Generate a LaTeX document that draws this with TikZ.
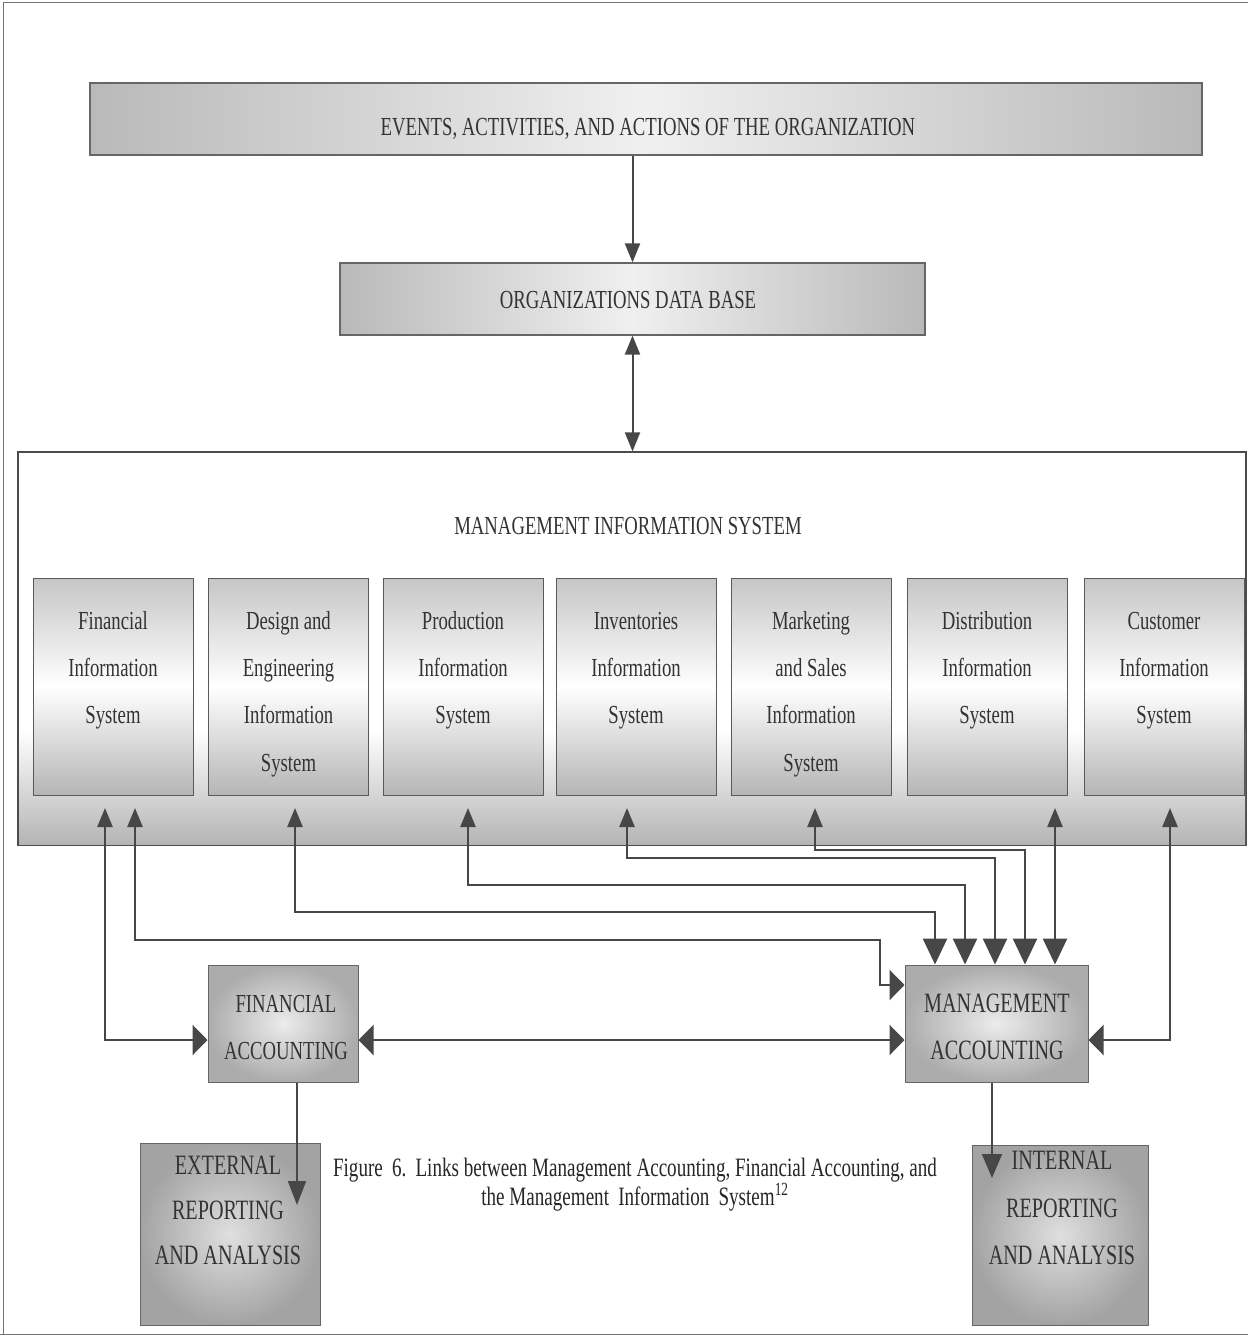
\documentclass[tikz,border=0pt]{standalone}
\usepackage{fontspec}
\setmainfont{Liberation Serif}[FakeStretch=0.72]
\usetikzlibrary{arrows.meta,calc}
\tikzset{
  smallTip/.tip={Triangle[length=19pt,width=15pt]},
  sideTip/.tip={Triangle[length=15pt,width=30pt]},
  downTip/.tip={Triangle[length=26pt,width=24pt]},
  conn/.style={line width=2.6pt, draw=black!72},
  thinconn/.style={line width=2pt, draw=black!72},
  bigbox/.style={draw=black!60, line width=1.2pt, left color=gray!55, right color=gray!55, middle color=gray!12, inner sep=0},
  misbox/.style={draw=black!70, line width=1.2pt, fill=white, inner sep=0},
  subbox/.style={draw=black!65, line width=1pt, top color=gray!45, bottom color=gray!58, middle color=white, minimum width=160pt, minimum height=217pt, inner sep=0},
  accbox/.style={draw=black!60, line width=1pt, inner color=gray!15, outer color=gray!65, minimum height=117pt, inner sep=0},
  repbox/.style={draw=black!60, line width=1pt, inner color=gray!25, outer color=gray!72, inner sep=0},
  txt/.style={font=\fontsize{26}{30}\selectfont, text=black!80, inner sep=0, anchor=base},
  bigtxt/.style={font=\fontsize{28}{32}\selectfont, text=black!80, inner sep=0, anchor=base},
  captxt/.style={font=\fontsize{26.5}{30}\selectfont, text=black!85, inner sep=0, anchor=base},
  framel/.style={draw=black!55, line width=0.8pt}
}
\begin{document}
\begin{tikzpicture}[x=1pt,y=-1pt]
\useasboundingbox (0,0) rectangle (1248,1338);
\fill[white] (0,0) rectangle (1248,1338);
\draw[framel] (3,1335) -- (3,2) -- (1248,2);
\draw[framel] (0,1334) -- (1248,1334);

% top boxes
\node[bigbox, minimum width=1112pt, minimum height=72pt] (top) at (646,119) {};
\node[txt] (toptxt) at (648,135) {EVENTS, ACTIVITIES, AND ACTIONS OF THE ORGANIZATION};
\node[bigbox, minimum width=585pt, minimum height=72pt] (db) at (632.5,299) {};
\node[txt] (dbtxt) at (628,308) {ORGANIZATIONS DATA BASE};

% MIS
\node[misbox, minimum width=1228pt, minimum height=393pt] (mis) at (632,648.5) {};
\fill[top color=white, bottom color=gray!58] (19,730) rectangle (1245,844);
\node[txt] (mistxt) at (628,534) {MANAGEMENT INFORMATION SYSTEM};

\node[subbox] (s1) at (113,686.5) {};
\node[subbox] (s2) at (288.5,686.5) {};
\node[subbox] (s3) at (463,686.5) {};
\node[subbox] (s4) at (636,686.5) {};
\node[subbox] (s5) at (811,686.5) {};
\node[subbox] (s6) at (987,686.5) {};
\node[subbox] (s7) at (1164,686.5) {};

\node[txt] (s1a) at (113,629) {Financial};
\node[txt] (s1b) at (113,676) {Information};
\node[txt] (s1c) at (113,723) {System};
\node[txt] (s2a) at (288.5,629) {Design and};
\node[txt] (s2b) at (288.5,676) {Engineering};
\node[txt] (s2c) at (288.5,723) {Information};
\node[txt] (s2d) at (288.5,771) {System};
\node[txt] (s3a) at (463,629) {Production};
\node[txt] (s3b) at (463,676) {Information};
\node[txt] (s3c) at (463,723) {System};
\node[txt] (s4a) at (636,629) {Inventories};
\node[txt] (s4b) at (636,676) {Information};
\node[txt] (s4c) at (636,723) {System};
\node[txt] (s5a) at (811,629) {Marketing};
\node[txt] (s5b) at (811,676) {and Sales};
\node[txt] (s5c) at (811,723) {Information};
\node[txt] (s5d) at (811,771) {System};
\node[txt] (s6a) at (987,629) {Distribution};
\node[txt] (s6b) at (987,676) {Information};
\node[txt] (s6c) at (987,723) {System};
\node[txt] (s7a) at (1164,629) {Customer};
\node[txt] (s7b) at (1164,676) {Information};
\node[txt] (s7c) at (1164,723) {System};

% accounting boxes
\node[accbox, minimum width=150pt] (fa) at (283,1023.5) {};
\node[txt] (fa1) at (286,1012) {FINANCIAL};
\node[txt] (fa2) at (286,1059) {ACCOUNTING};
\node[accbox, minimum width=183pt] (ma) at (996.5,1023.5) {};
\node[bigtxt] (ma1) at (997,1012) {MANAGEMENT};
\node[bigtxt] (ma2) at (997,1059) {ACCOUNTING};

% reporting boxes
\node[repbox, minimum width=180pt, minimum height=182pt] (ext) at (230,1234) {};
\node[bigtxt] (ext1) at (228,1174) {EXTERNAL};
\node[bigtxt] (ext2) at (228,1219) {REPORTING};
\node[bigtxt] (ext3) at (228,1264) {AND ANALYSIS};
\node[repbox, minimum width=176pt, minimum height=180pt] (int) at (1060,1235) {};
\node[bigtxt] (int1) at (1062,1169) {INTERNAL};
\node[bigtxt] (int2) at (1062,1217) {REPORTING};
\node[bigtxt] (int3) at (1062,1264) {AND ANALYSIS};

% caption
\node[captxt] (cap1) at (635,1176) {Figure\,\ 6.\,\ Links between Management Accounting, Financial Accounting, and};
\node[captxt] (cap2) at (635,1205) {the Management\,\ Information\,\ System\textsuperscript{12}};

% coordinates
\coordinate (a1) at (105,808);
\coordinate (a2) at (135,808);
\coordinate (a3) at (295,808);
\coordinate (a4) at (468,808);
\coordinate (a5) at (627,808);
\coordinate (a6) at (815,808);
\coordinate (a7) at (1055,808);
\coordinate (a8) at (1170,808);
\coordinate (lvl) at (0,1040);
\coordinate (lv2) at (0,985);
\coordinate (k2) at (880,940);
\coordinate (h3) at (935,912);
\coordinate (h4) at (965,885);
\coordinate (h5) at (995,858);
\coordinate (h6) at (1025,850);
\coordinate (extTip) at (297,1205);
\coordinate (intTip) at (992,1178);

% top connectors
\draw[thinconn, -smallTip] (db.north |- top.south) -- (db.north);
\draw[thinconn, smallTip-smallTip] (db.south) -- (mis.north -| db.south);

% MIS connectors
\draw[conn, smallTip-sideTip] (a1) |- (fa.west |- lvl);
\draw[conn, smallTip-sideTip] (a2) |- (k2) |- (ma.west |- lv2);
\draw[conn, smallTip-downTip] (a3) |- (h3) -- (h3 |- ma.north);
\draw[conn, smallTip-downTip] (a4) |- (h4) -- (h4 |- ma.north);
\draw[conn, smallTip-downTip] (a5) |- (h5) -- (h5 |- ma.north);
\draw[conn, smallTip-downTip] (a6) |- (h6) -- (h6 |- ma.north);
\draw[conn, smallTip-downTip] (a7) -- (a7 |- ma.north);
\draw[conn, smallTip-sideTip] (a8) |- (ma.east |- lvl);
\draw[conn, sideTip-sideTip] (fa.east |- lvl) -- (ma.west |- lvl);

% reporting connectors
\draw[thinconn, -{Triangle[length=24pt,width=18pt]}] (fa.south -| extTip) -- (extTip);
\draw[thinconn, -{Triangle[length=24pt,width=20pt]}] (ma.south -| intTip) -- (intTip);
\end{tikzpicture}
\end{document}
